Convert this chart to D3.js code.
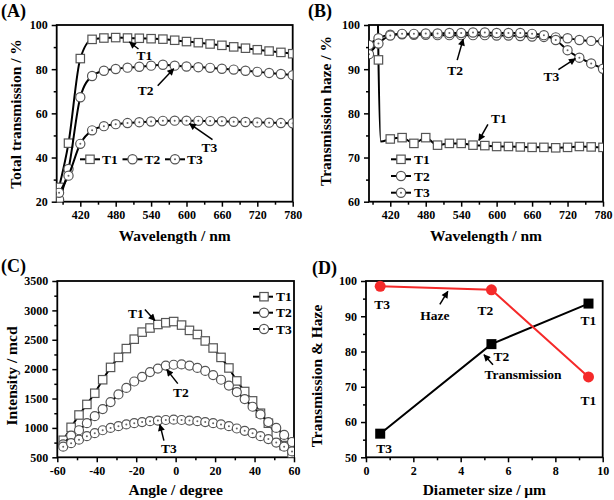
<!DOCTYPE html>
<html><head><meta charset="utf-8">
<script src="https://cdn.jsdelivr.net/npm/d3@7"></script>
<style>
body{margin:0;background:#fff}
text{font-family:"Liberation Serif","Times New Roman",serif;font-weight:bold;fill:#000}
</style>
</head><body><svg id="c" width="614" height="500"></svg>
<script>
// ---------- DATA ----------
// Panel A: total transmission (%) vs wavelength (nm)
const wlA = [384, 400, 420, 440, 460, 480, 500, 520, 540, 560, 580, 600, 620, 640, 660, 680, 700, 720, 740, 760, 780];
const transT1 = [26.5, 46.5, 84.8, 93.5, 94.1, 94.3, 94.1, 94.0, 93.8, 93.6, 93.1, 92.5, 92.0, 91.4, 90.8, 90.1, 89.5, 88.8, 88.2, 87.6, 87.0];
const transT2 = [21.0, 34.8, 67.3, 76.9, 79.3, 80.1, 80.7, 81.1, 81.6, 82.0, 81.6, 81.2, 80.9, 80.6, 80.2, 79.8, 79.3, 78.8, 78.3, 77.8, 77.3];
const transT3 = [24.0, 31.8, 46.2, 52.3, 54.2, 55.1, 55.6, 56.0, 56.3, 56.6, 56.7, 56.7, 56.6, 56.5, 56.4, 56.2, 56.1, 55.9, 55.8, 55.6, 55.5];

// Panel B: transmission haze (%) vs wavelength (nm)
const wlB = [384, 400, 420, 440, 460, 480, 500, 520, 540, 560, 580, 600, 620, 640, 660, 680, 700, 720, 740, 760, 780];
const hazeT2 = [95.5, 97.0, 97.8, 97.9, 97.8, 97.8, 97.7, 97.7, 97.7, 97.7, 97.7, 97.6, 97.6, 97.5, 97.4, 97.3, 97.2, 97.0, 96.6, 96.4, 96.3];
const hazeT3 = [93.4, 95.8, 97.6, 98.0, 98.0, 98.1, 98.1, 98.2, 98.2, 98.3, 98.3, 98.2, 98.2, 98.2, 98.0, 97.7, 96.6, 94.3, 92.6, 91.3, 90.1];
const wlBT1 = [400, 420, 440, 460, 480, 500, 520, 540, 560, 580, 600, 620, 640, 660, 680, 700, 720, 740, 760, 780];
const hazeT1 = [92.1, 74.2, 74.5, 73.2, 74.5, 72.8, 73.2, 73.2, 72.8, 72.7, 72.5, 72.5, 72.4, 72.3, 72.3, 72.2, 72.3, 72.5, 72.4, 72.3];
// unmarked readings of T1 around the steep drop
const wlBT1Edge = [398, 404];
const hazeT1Edge = [112, 73.6];

// Panel C: intensity (mcd) vs angle (degree)
const angles = [-57, -53, -49, -45, -41, -37, -33, -29, -25, -21, -17, -13, -9, -5, -1, 3, 7, 11, 15, 19, 23, 27, 31, 35, 39, 43, 47, 51, 55, 59];
const intT1 = [790, 1010, 1220, 1400, 1590, 1820, 2030, 2200, 2350, 2510, 2630, 2700, 2760, 2790, 2810, 2750, 2660, 2590, 2480, 2360, 2200, 2020, 1800, 1620, 1460, 1250, 1080, 880, 700, 560];
const intT2 = [720, 870, 960, 1080, 1200, 1320, 1440, 1570, 1680, 1790, 1870, 1950, 2010, 2060, 2075, 2080, 2060, 2020, 1970, 1900, 1820, 1720, 1610, 1490, 1360, 1230, 1100, 1000, 880, 760];
const intT3 = [680, 740, 800, 860, 910, 960, 1000, 1030, 1060, 1080, 1100, 1115, 1125, 1135, 1140, 1135, 1125, 1115, 1100, 1080, 1060, 1030, 990, 950, 910, 860, 810, 750, 680, 600];

// Panel D: transmission & haze vs diameter size (um)
const samples = ["T3", "T2", "T1"];
const diameter = [0.6, 5.3, 9.4];
const hazeD = [98.5, 97.5, 72.8];
const transD = [56.7, 82.1, 93.6];

// Tick values
const wlMajor = [420, 480, 540, 600, 660, 720, 780];
const wlMinor = [390, 450, 510, 570, 630, 690, 750];
const aYMajor = [20, 40, 60, 80, 100];
const aYMinor = [30, 50, 70, 90];
const bYMajor = [60, 70, 80, 90, 100];
const bYMinor = [65, 75, 85, 95];
const cXMajor = [-60, -40, -20, 0, 20, 40, 60];
const cXMinor = [-50, -30, -10, 10, 30, 50];
const cYMajor = [500, 1000, 1500, 2000, 2500, 3000, 3500];
const cYMinor = [750, 1250, 1750, 2250, 2750, 3250];
const dXMajor = [0, 2, 4, 6, 8, 10];
const dXMinor = [1, 3, 5, 7, 9];
const dYMajor = [50, 60, 70, 80, 90, 100];
const dYMinor = [55, 65, 75, 85, 95];

const seriesNames = ["T1", "T2", "T3"];

// ---------- DRAW ----------
const svg = d3.select('#c');
svg.append('rect').attr('width', 614).attr('height', 500).attr('fill', '#fff');
const defs = svg.append('defs');
defs.append('marker').attr('id', 'arr').attr('viewBox', '0 0 10 10')
  .attr('refX', 9).attr('refY', 5).attr('markerWidth', 8).attr('markerHeight', 7)
  .attr('markerUnits', 'userSpaceOnUse').attr('orient', 'auto')
  .append('path').attr('d', 'M0,0 L10,5 L0,10 Z').attr('fill', '#000');

const MSTROKE = '#555';
const plainFmt = d => String(d);

function makePanel(o) {
  const x = d3.scaleLinear().domain(o.xd).range(o.xr);
  const y = d3.scaleLinear().domain(o.yd).range(o.yr);
  const g = svg.append('g');
  const id = 'clip' + o.name;
  defs.append('clipPath').attr('id', id).append('rect')
    .attr('x', o.xr[0]).attr('y', o.yr[1])
    .attr('width', o.xr[1] - o.xr[0]).attr('height', o.yr[0] - o.yr[1]);

  function ax(axisFn, vals, size, fmt, tr) {
    const a = g.append('g').attr('transform', tr)
      .call(axisFn.tickValues(vals).tickSize(size).tickPadding(o.pad || 4).tickFormat(fmt));
    a.select('.domain').remove();
    a.selectAll('line').attr('stroke', '#000').attr('stroke-width', 1.5);
    a.attr('font-size', 12).attr('font-family', null);
    return a;
  }
  const none = () => '';
  ax(d3.axisBottom(x), o.xMinor, 3, none, `translate(0,${o.yr[0]})`);
  ax(d3.axisBottom(x), o.xMajor, 5, plainFmt, `translate(0,${o.yr[0]})`);
  ax(d3.axisLeft(y), o.yMinor, 3, none, `translate(${o.xr[0]},0)`);
  ax(d3.axisLeft(y), o.yMajor, 5, plainFmt, `translate(${o.xr[0]},0)`);

  g.append('rect').attr('x', o.xr[0]).attr('y', o.yr[1])
    .attr('width', o.xr[1] - o.xr[0]).attr('height', o.yr[0] - o.yr[1])
    .attr('fill', 'none').attr('stroke', '#000').attr('stroke-width', 1.8);

  const plot = g.append('g').attr('clip-path', `url(#${id})`);

  g.append('text').attr('x', (o.xr[0] + o.xr[1]) / 2 + (o.xtdx || 0)).attr('y', o.xty)
    .attr('text-anchor', 'middle').attr('font-size', 15.5).text(o.xtitle);
  g.append('text').attr('transform', `translate(${o.ytx},${o.yty}) rotate(-90)`)
    .attr('text-anchor', 'middle').attr('dy', '0.35em').attr('font-size', 15.5).text(o.ytitle);
  g.append('text').attr('x', o.lx).attr('y', o.ly).attr('font-size', 18).text(o.label);
  return { x, y, g, plot };
}

function drawMarker(sel, kind, cx, cy, r) {
  if (kind === 'square') {
    sel.append('rect').attr('x', cx - r).attr('y', cy - r).attr('width', 2 * r).attr('height', 2 * r)
      .attr('fill', '#fff').attr('stroke', MSTROKE).attr('stroke-width', 1.2);
  } else {
    sel.append('circle').attr('cx', cx).attr('cy', cy).attr('r', r)
      .attr('fill', '#fff').attr('stroke', MSTROKE).attr('stroke-width', 1.2);
    if (kind === 'dot') {
      sel.append('circle').attr('cx', cx).attr('cy', cy).attr('r', 1).attr('fill', '#666');
    }
  }
}

function drawSeries(p, xs, ys, kind, r, curve, lineXs, lineYs) {
  const lx = lineXs || xs, ly = lineYs || ys;
  const pts = lx.map((v, i) => [v, ly[i]]).sort((a, b) => a[0] - b[0]);
  const line = d3.line().x(d => p.x(d[0])).y(d => p.y(d[1])).curve(curve);
  p.plot.append('path').attr('d', line(pts)).attr('fill', 'none')
    .attr('stroke', '#000').attr('stroke-width', 2);
  const mg = p.plot.append('g');
  xs.forEach((v, i) => drawMarker(mg, kind, p.x(v), p.y(ys[i]), r));
}

function arrow(g, x1, y1, x2, y2) {
  g.append('line').attr('x1', x1).attr('y1', y1).attr('x2', x2).attr('y2', y2)
    .attr('stroke', '#000').attr('stroke-width', 1.5).attr('marker-end', 'url(#arr)');
}
function label(g, t, x, y, size) {
  g.append('text').attr('x', x).attr('y', y).attr('text-anchor', 'middle')
    .attr('dy', '0.35em').attr('font-size', size || 13.5).text(t);
}

const kinds = ['square', 'circle', 'dot'];

// ----- Panel A -----
const A = makePanel({
  name: 'A', xd: [380, 780], xr: [56.7, 292.7], yd: [20, 100], yr: [201.7, 25],
  xMajor: wlMajor, xMinor: wlMinor, yMajor: aYMajor, yMinor: aYMinor, pad: 4,
  xtitle: 'Wavelength / nm', xty: 241, ytitle: 'Total transmission / %', ytx: 16, yty: 114,
  label: '(A)', lx: 1, ly: 17
});
[transT1, transT2, transT3].forEach((s, i) => drawSeries(A, wlA, s, kinds[i], i === 0 ? 4.2 : 4.6, d3.curveMonotoneX));
[80, 122.5, 165].forEach((x0, i) => {
  const yy = 159.3;
  A.g.append('line').attr('x1', x0).attr('x2', x0 + 20).attr('y1', yy).attr('y2', yy).attr('stroke', '#000').attr('stroke-width', 2);
  drawMarker(A.g, kinds[i], x0 + 10, yy, i === 0 ? 4.2 : 4.6);
  A.g.append('text').attr('x', x0 + 22).attr('y', yy).attr('dy', '0.35em').attr('font-size', 13.5).text(seriesNames[i]);
});
{
  const i1 = wlA.indexOf(500), i2 = wlA.indexOf(580), i3 = wlA.indexOf(600);
  const t1 = [A.x(500), A.y(transT1[i1])], t2 = [A.x(580), A.y(transT2[i2])], t3 = [A.x(600), A.y(transT3[i3])];
  arrow(A.g, t1[0] + 11, t1[1] + 11, t1[0] + 2, t1[1] + 4);
  label(A.g, 'T1', t1[0] + 17, t1[1] + 17);
  arrow(A.g, t2[0] - 17, t2[1] + 20, t2[0] - 1, t2[1] + 3);
  label(A.g, 'T2', t2[0] - 29, t2[1] + 25);
  arrow(A.g, t3[0] + 26, t3[1] + 19, t3[0] + 3, t3[1] + 3);
  label(A.g, 'T3', t3[0] + 23, t3[1] + 27);
}

// ----- Panel B -----
const B = makePanel({
  name: 'B', xd: [384, 780], xr: [369, 603], yd: [60, 100], yr: [201.7, 25],
  xMajor: wlMajor, xMinor: wlMinor, yMajor: bYMajor, yMinor: bYMinor, pad: 4,
  xtitle: 'Wavelength / nm', xty: 241, ytitle: 'Transmission haze / %', ytx: 326, yty: 111,
  label: '(B)', lx: 308, ly: 17
});
drawSeries(B, wlBT1, hazeT1, 'square', 4.2, d3.curveMonotoneX, wlBT1.concat(wlBT1Edge), hazeT1.concat(hazeT1Edge));
drawSeries(B, wlB, hazeT2, 'circle', 4.6, d3.curveMonotoneX);
drawSeries(B, wlB, hazeT3, 'dot', 4.6, d3.curveMonotoneX);
[159.3, 176, 192.7].forEach((yy, i) => {
  const x0 = 391;
  B.g.append('line').attr('x1', x0).attr('x2', x0 + 20).attr('y1', yy).attr('y2', yy).attr('stroke', '#000').attr('stroke-width', 2);
  drawMarker(B.g, kinds[i], x0 + 10, yy, i === 0 ? 4.2 : 4.6);
  B.g.append('text').attr('x', x0 + 23).attr('y', yy).attr('dy', '0.35em').attr('font-size', 13.5).text(seriesNames[i]);
});
{
  const t2 = [B.x(540), B.y(hazeT2[wlB.indexOf(540)])];
  arrow(B.g, t2[0] - 4, t2[1] + 25, t2[0] + 2, t2[1] + 4);
  label(B.g, 'T2', t2[0] - 6, t2[1] + 35);
  const t3 = [B.x(740), B.y(hazeT3[wlB.indexOf(740)])];
  arrow(B.g, t3[0] - 21, t3[1] + 12, t3[0] - 4, t3[1] + 1);
  label(B.g, 'T3', t3[0] - 28, t3[1] + 19);
  const t1 = [B.x(570), B.y(72.75)];
  arrow(B.g, t1[0] + 9, t1[1] - 21, t1[0], t1[1] - 5);
  label(B.g, 'T1', t1[0] + 20, t1[1] - 27);
}

// ----- Panel C -----
const C = makePanel({
  name: 'C', xd: [-60, 60], xr: [57.3, 294], yd: [500, 3500], yr: [457.3, 281],
  xMajor: cXMajor, xMinor: cXMinor, yMajor: cYMajor, yMinor: cYMinor, pad: 4,
  xtitle: 'Angle / degree', xty: 495, ytitle: 'Intensity / mcd', ytx: 12, yty: 376,
  label: '(C)', lx: 1, ly: 272
});
[intT1, intT2, intT3].forEach((s, i) => drawSeries(C, angles, s, kinds[i], i === 0 ? 4.2 : 4.5, d3.curveLinear));
[296.7, 312.7, 329].forEach((yy, i) => {
  const x0 = 253;
  C.g.append('line').attr('x1', x0).attr('x2', x0 + 20).attr('y1', yy).attr('y2', yy).attr('stroke', '#000').attr('stroke-width', 2);
  drawMarker(C.g, kinds[i], x0 + 11, yy, i === 0 ? 4.2 : 4.6);
  C.g.append('text').attr('x', x0 + 23).attr('y', yy).attr('dy', '0.35em').attr('font-size', 13.5).text(seriesNames[i]);
});
{
  const k = angles.indexOf(-9), k5 = angles.indexOf(-5);
  const t1 = [C.x(-9), C.y(intT1[k])];
  arrow(C.g, t1[0] - 13, t1[1] - 15, t1[0] - 3, t1[1] - 4);
  label(C.g, 'T1', t1[0] - 22, t1[1] - 11);
  const t2 = [C.x(-5), C.y(intT2[k5])];
  arrow(C.g, t2[0] + 12, t2[1] + 18, t2[0] + 1, t2[1] + 4);
  label(C.g, 'T2', t2[0] + 15, t2[1] + 27);
  const t3 = [C.x(-9), C.y(intT3[k])];
  arrow(C.g, t3[0] + 6, t3[1] + 20, t3[0] + 2, t3[1] + 4);
  label(C.g, 'T3', t3[0] + 11, t3[1] + 28);
}

// ----- Panel D -----
const D = makePanel({
  name: 'D', xd: [0, 10], xr: [366, 602.7], yd: [50, 100], yr: [457.3, 281],
  xMajor: dXMajor, xMinor: dXMinor, yMajor: dYMajor, yMinor: dYMinor, pad: 4,
  xtitle: 'Diameter size / \u03bcm', xty: 495, ytitle: 'Transmission & Haze', ytx: 317, yty: 376,
  label: '(D)', lx: 312, ly: 274
});
{
  const ln = d3.line().x((d, i) => D.x(diameter[i])).y(d => D.y(d));
  D.plot.append('path').attr('d', ln(transD)).attr('fill', 'none').attr('stroke', '#000').attr('stroke-width', 2);
  D.plot.append('path').attr('d', ln(hazeD)).attr('fill', 'none').attr('stroke', '#f52a2a').attr('stroke-width', 2);
  D.g.selectAll('.tsq').data(transD).enter().append('rect')
    .attr('x', (d, i) => D.x(diameter[i]) - 5).attr('y', d => D.y(d) - 5)
    .attr('width', 10).attr('height', 10).attr('fill', '#000');
  D.g.selectAll('.hc').data(hazeD).enter().append('circle')
    .attr('cx', (d, i) => D.x(diameter[i])).attr('cy', d => D.y(d)).attr('r', 5.5).attr('fill', '#f52a2a');
  const hOff = [[2, 18], [-6, 20], [0, 23]];
  const tOff = [[4, 15], [10, 12], [0, 17]];
  samples.forEach((s, i) => {
    label(D.g, s, D.x(diameter[i]) + hOff[i][0], D.y(hazeD[i]) + hOff[i][1]);
    label(D.g, s, D.x(diameter[i]) + tOff[i][0], D.y(transD[i]) + tOff[i][1]);
  });
  const hx = 3.5, hy = hazeD[0] + (hazeD[1] - hazeD[0]) * (hx - diameter[0]) / (diameter[1] - diameter[0]);
  arrow(D.g, D.x(hx) - 9, D.y(hy) + 16, D.x(hx) - 1, D.y(hy) + 3);
  label(D.g, 'Haze', D.x(hx) - 14, D.y(hy) + 27);
  const tx = 4.9, ty = transD[0] + (transD[1] - transD[0]) * (tx - diameter[0]) / (diameter[1] - diameter[0]);
  arrow(D.g, D.x(tx) + 11, D.y(ty) + 13, D.x(tx) + 2, D.y(ty) + 3);
  label(D.g, 'Transmission', D.x(tx) + 41, D.y(ty) + 23);
}
</script></body></html>
